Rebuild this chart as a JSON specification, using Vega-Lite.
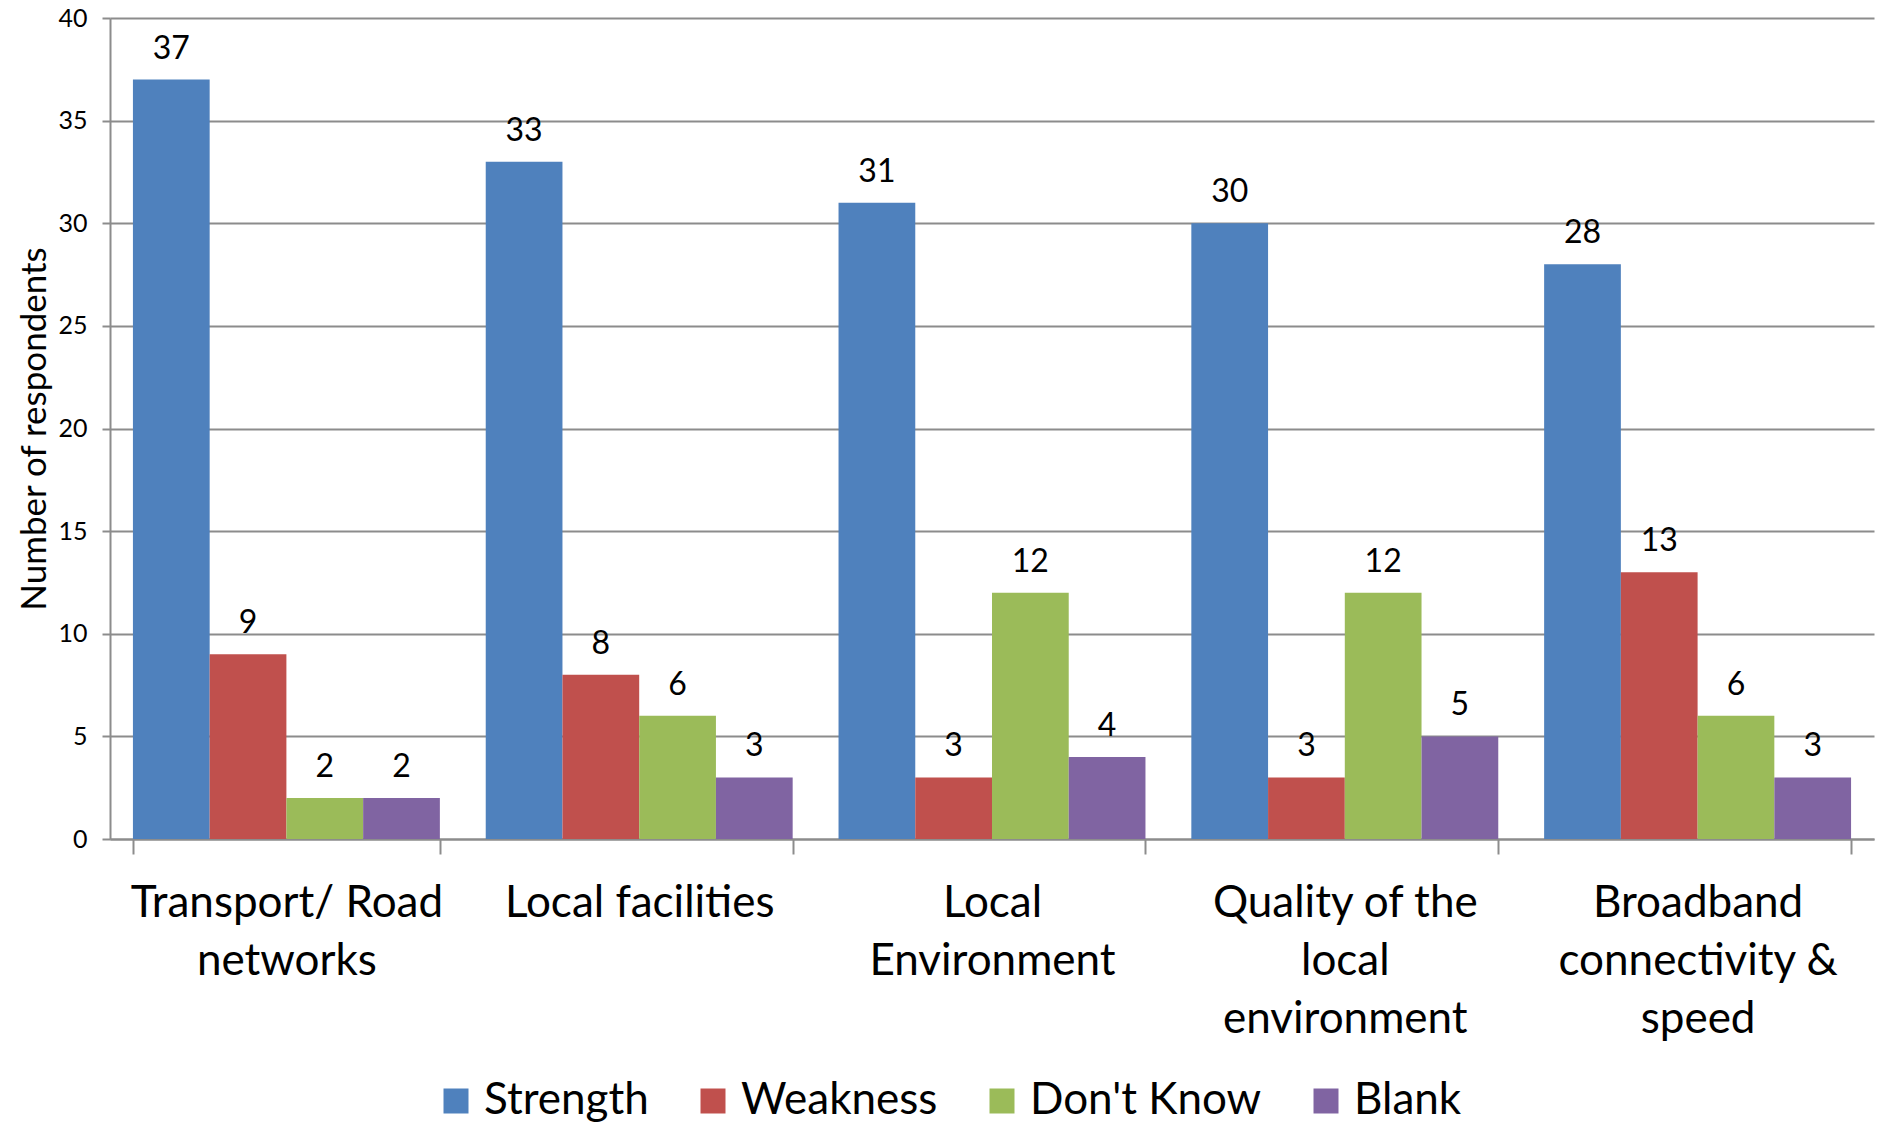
{
  "$schema": "https://vega.github.io/schema/vega-lite/v6.json",
  "width": 1764,
  "height": 821,
  "autosize": {"type": "none"},
  "padding": {"left": 110, "top": 18, "right": 5, "bottom": 283},
  "background": "white",
  "config": {"view": {"stroke": null}, "font": "Lato"},
  "data": {
    "values": [
      {"category": "Transport/ Road networks", "response": "Strength", "count": 37},
      {"category": "Transport/ Road networks", "response": "Weakness", "count": 9},
      {"category": "Transport/ Road networks", "response": "Don't Know", "count": 2},
      {"category": "Transport/ Road networks", "response": "Blank", "count": 2},
      {"category": "Local facilities", "response": "Strength", "count": 33},
      {"category": "Local facilities", "response": "Weakness", "count": 8},
      {"category": "Local facilities", "response": "Don't Know", "count": 6},
      {"category": "Local facilities", "response": "Blank", "count": 3},
      {"category": "Local Environment", "response": "Strength", "count": 31},
      {"category": "Local Environment", "response": "Weakness", "count": 3},
      {"category": "Local Environment", "response": "Don't Know", "count": 12},
      {"category": "Local Environment", "response": "Blank", "count": 4},
      {"category": "Quality of the local environment", "response": "Strength", "count": 30},
      {"category": "Quality of the local environment", "response": "Weakness", "count": 3},
      {"category": "Quality of the local environment", "response": "Don't Know", "count": 12},
      {"category": "Quality of the local environment", "response": "Blank", "count": 5},
      {"category": "Broadband connectivity & speed", "response": "Strength", "count": 28},
      {"category": "Broadband connectivity & speed", "response": "Weakness", "count": 13},
      {"category": "Broadband connectivity & speed", "response": "Don't Know", "count": 6},
      {"category": "Broadband connectivity & speed", "response": "Blank", "count": 3}
    ]
  },
  "encoding": {
    "x": {
      "field": "category",
      "type": "nominal",
      "sort": ["Transport/ Road networks", "Local facilities", "Local Environment", "Quality of the local environment", "Broadband connectivity & speed"],
      "scale": {"paddingInner": 0.13, "paddingOuter": 0.065},
      "axis": {
        "title": null,
        "labelAngle": 0,
        "labelFont": "Lato",
        "labelFontSize": 44,
        "labelColor": "black",
        "labelLineHeight": 58,
        "labelBaseline": "top",
        "labelPadding": 27,
        "labelLimit": 400,
        "tickBand": "extent",
        "tickSize": 15,
        "tickColor": "#8c8c8c",
        "tickWidth": 2,
        "domainColor": "#8c8c8c",
        "domainWidth": 2,
        "grid": false,
        "labelExpr": "datum.label == 'Transport/ Road networks' ? ['Transport/ Road', 'networks'] : datum.label == 'Local Environment' ? ['Local', 'Environment'] : datum.label == 'Quality of the local environment' ? ['Quality of the', 'local', 'environment'] : datum.label == 'Broadband connectivity & speed' ? ['Broadband', 'connectivity &', 'speed'] : datum.label"
      }
    },
    "xOffset": {
      "field": "response",
      "type": "nominal",
      "sort": ["Strength", "Weakness", "Don't Know", "Blank"],
      "scale": {"paddingInner": 0, "paddingOuter": 0}
    },
    "y": {
      "field": "count",
      "type": "quantitative",
      "scale": {"domain": [0, 40], "nice": false},
      "axis": {
        "title": "Number of respondents",
        "titleFont": "Lato",
        "titleFontSize": 35,
        "titleFontWeight": "normal",
        "titleColor": "black",
        "titlePadding": 5,
        "values": [0, 5, 10, 15, 20, 25, 30, 35, 40],
        "labelFont": "Lato",
        "labelFontSize": 25,
        "labelColor": "black",
        "labelPadding": 15,
        "tickSize": 8,
        "tickColor": "#8c8c8c",
        "tickWidth": 2,
        "domainColor": "#8c8c8c",
        "domainWidth": 2,
        "grid": true,
        "gridColor": "#8c8c8c",
        "gridWidth": 2
      }
    }
  },
  "layer": [
    {
      "mark": {"type": "bar"},
      "encoding": {
        "color": {
          "field": "response",
          "type": "nominal",
          "sort": ["Strength", "Weakness", "Don't Know", "Blank"],
          "scale": {"domain": ["Strength", "Weakness", "Don't Know", "Blank"], "range": ["#4F81BD", "#C0504D", "#9BBB59", "#8064A2"]},
          "legend": {
            "title": null,
            "orient": "none",
            "direction": "horizontal",
            "legendX": 324,
            "legendY": 1061,
            "symbolType": "square",
            "symbolSize": 625,
            "symbolStrokeWidth": 0,
            "symbolOpacity": 1,
            "labelFont": "Lato",
            "labelFontSize": 44,
            "labelColor": "black",
            "labelOffset": 6,
            "labelLimit": 400,
            "columnPadding": 42
          }
        }
      }
    },
    {
      "mark": {"type": "text", "baseline": "bottom", "dy": -14, "font": "Lato", "fontSize": 32, "color": "black"},
      "encoding": {"text": {"field": "count", "type": "quantitative"}}
    }
  ]
}
